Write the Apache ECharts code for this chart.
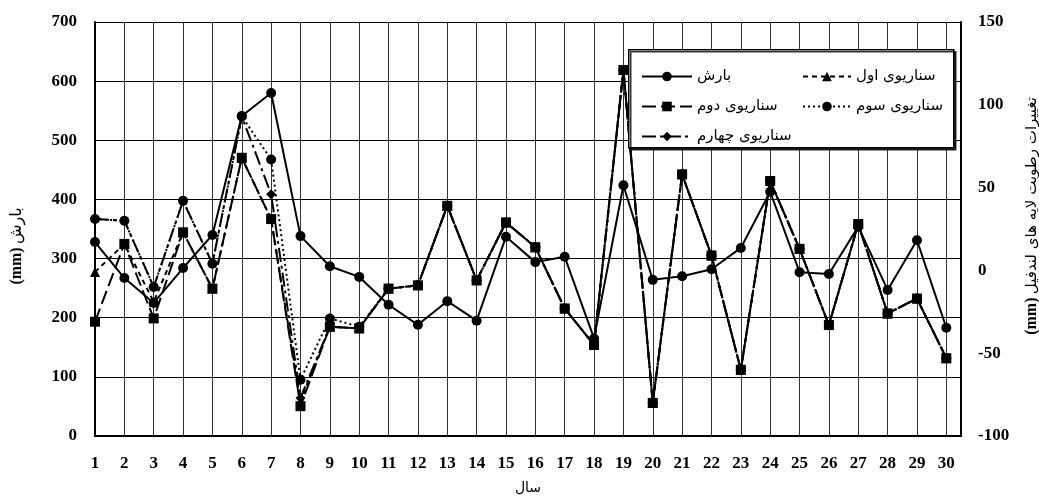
<!DOCTYPE html>
<html>
<head>
<meta charset="utf-8">
<script src="https://cdn.jsdelivr.net/npm/echarts@6/dist/echarts.min.js"></script>
<style>html,body{margin:0;padding:0;background:#fff}#c{width:1039px;height:497px}</style>
</head>
<body>
<div id="c"></div>
<script>
var years = [1,2,3,4,5,6,7,8,9,10,11,12,13,14,15,16,17,18,19,20,21,22,23,24,25,26,27,28,29,30];
var rainfall = [328,267,225,284,340,541,580,338,287,269,222,188,228,195,337,294,303,165,424,264,270,282,318,413,277,274,354,247,331,183];
var scenario1 = [-1,16,-19,23,-11,68,31,-79,-34,-35,-11,-9,39,-6,29,14,-23,-45,121,-80,58,9,-60,54,13,-33,28,-26,-17,-53];
var scenario2 = [-31,16,-29,23,-11,68,31,-82,-34,-35,-11,-9,39,-6,29,14,-23,-45,121,-80,58,9,-60,54,13,-33,28,-26,-17,-53];
var scenario3 = [31,30,-10,42,4,93,67,-66,-29,-34,-11,-9,39,-6,29,14,-23,-45,121,-80,58,9,-60,54,13,-33,28,-26,-17,-53];
var scenario4 = [31,30,-10,42,4,93,46,-77,-34,-35,-11,-9,39,-6,29,14,-23,-45,121,-80,58,9,-60,54,13,-33,28,-26,-17,-53];
var leftTicks = [0,700,100];
var rightTicks = [-100,150,50];

var names = ['بارش','سناریوی اول','سناریوی دوم','سناریوی سوم','سناریوی چهارم'];
function pairs(v){ return years.map(function(x,i){ return [x, v[i]]; }); }

var chart = echarts.init(document.getElementById('c'));
var numFont = {fontFamily:'Liberation Serif', fontWeight:'bold', fontSize:17, color:'#000'};
var legendText = {fontFamily:'DejaVu Sans', fontSize:15, color:'#000'};

chart.setOption({
  animation:false,
  backgroundColor:'#fff',
  grid:{left:95, right:78, top:22, bottom:61, containLabel:false, outerBoundsMode:'none'},
  xAxis:{
    type:'value', min:1, max:30.5, interval:1,
    name:'سال', nameLocation:'middle', nameGap:45,
    nameTextStyle:{fontFamily:'DejaVu Sans', fontSize:14, color:'#000'},
    axisLine:{show:true, onZero:false, lineStyle:{color:'#000', width:2}},
    axisTick:{show:false},
    axisLabel:Object.assign({margin:19, showMaxLabel:false, formatter:function(v){ return (v%1===0)? String(v) : ''; }}, numFont),
    splitLine:{show:true, lineStyle:{color:'#333', width:1}}
  },
  yAxis:[{
    type:'value', min:leftTicks[0], max:leftTicks[1], interval:leftTicks[2], position:'left',
    name:'{a|(mm)} {b|بارش}', nameLocation:'middle', nameGap:70, nameRotate:90,
    nameTextStyle:{padding:[0,34,0,0], rich:{a:{fontFamily:'Liberation Serif', fontWeight:'bold', fontSize:16, color:'#000'}, b:{fontFamily:'DejaVu Sans', fontSize:16, color:'#000'}}},
    axisLine:{show:true, lineStyle:{color:'#000', width:2}},
    axisTick:{show:false},
    axisLabel:Object.assign({margin:18}, numFont),
    splitLine:{show:true, lineStyle:{color:'#000', width:1}}
  },{
    type:'value', min:rightTicks[0], max:rightTicks[1], interval:rightTicks[2], position:'right',
    name:'{a|(mm)} {b|تغییرات رطوبت لایه های لندفیل}', nameLocation:'middle', nameGap:63, nameRotate:90,
    nameTextStyle:{padding:[0,0,0,26], rich:{a:{fontFamily:'Liberation Serif', fontWeight:'bold', fontSize:16, color:'#000'}, b:{fontFamily:'DejaVu Sans', fontSize:15, color:'#000'}}},
    axisLine:{show:true, lineStyle:{color:'#000', width:2}},
    axisTick:{show:false},
    axisLabel:Object.assign({margin:17}, numFont),
    splitLine:{show:false}
  }],
  graphic:[{
    type:'rect', left:628, top:49, shape:{width:325, height:98}, z:10,
    style:{fill:'#fff', stroke:'#000', lineWidth:1.5, shadowColor:'rgba(0,0,0,0.8)', shadowOffsetX:2, shadowOffsetY:2, shadowBlur:0}
  }],
  legend:[{
    orient:'vertical', left:636, top:64, itemWidth:50, itemHeight:12, itemGap:15, z:20,
    textStyle:legendText, data:[names[0], names[2], names[4]]
  },{
    orient:'vertical', left:797, top:64, itemWidth:48, itemHeight:12, itemGap:15, z:20,
    textStyle:legendText, data:[names[1], names[3]]
  }],
  series:[
    {name:names[0], type:'line', yAxisIndex:0, data:pairs(rainfall), symbol:'circle', symbolSize:10,
     lineStyle:{color:'#000', width:2}, itemStyle:{color:'#000'}, z:3},
    {name:names[1], type:'line', yAxisIndex:1, data:pairs(scenario1), symbol:'triangle', symbolSize:10,
     lineStyle:{color:'#000', width:2, type:[5,4]}, itemStyle:{color:'#000'}, z:3},
    {name:names[3], type:'line', yAxisIndex:1, data:pairs(scenario3), symbol:'circle', symbolSize:10,
     lineStyle:{color:'#000', width:2, type:[2,3]}, itemStyle:{color:'#000'}, z:4},
    {name:names[4], type:'line', yAxisIndex:1, data:pairs(scenario4), symbol:'diamond', symbolSize:10,
     lineStyle:{color:'#000', width:2, type:[14,4,3,4]}, itemStyle:{color:'#000'}, z:4},
    {name:names[2], type:'line', yAxisIndex:1, data:pairs(scenario2), symbol:'rect', symbolSize:10,
     lineStyle:{color:'#000', width:2, type:[14,5]}, itemStyle:{color:'#000'}, z:5}
  ]
});
</script>
</body>
</html>
